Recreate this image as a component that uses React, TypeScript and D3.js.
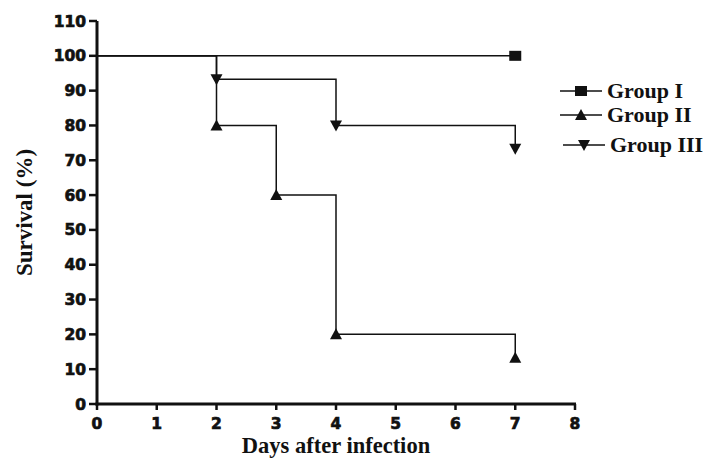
import React from 'react';
import * as d3 from 'd3';

const days = [0, 1, 2, 3, 4, 5, 6, 7, 8];
const survivalTicks = [0, 10, 20, 30, 40, 50, 60, 70, 80, 90, 100, 110];

const groupIDays = [0, 7];
const groupIValues = [100, 100];
const groupIIDays = [0, 2, 3, 4, 7];
const groupIIValues = [100, 80, 60, 20, 13.3];
const groupIIIDays = [0, 2, 4, 7];
const groupIIIValues = [100, 93.3, 80, 73.3];

const groupNames = ['Group I', 'Group II', 'Group III'];

type Pt = { day: number; value: number };
const zip = (ds: number[], vs: number[]): Pt[] => ds.map((d, i) => ({ day: d, value: vs[i] }));

const series = [
  { name: groupNames[0], marker: 'square', points: zip(groupIDays, groupIValues) },
  { name: groupNames[1], marker: 'up', points: zip(groupIIDays, groupIIValues) },
  { name: groupNames[2], marker: 'down', points: zip(groupIIIDays, groupIIIValues) },
];

const Marker = ({ type, x, y }: { type: string; x: number; y: number }) => {
  if (type === 'square') return <rect x={x - 6} y={y - 5} width={12} height={10} fill="#111" />;
  if (type === 'up') return <path d={`M${x},${y - 6}L${x + 6},${y + 5}L${x - 6},${y + 5}Z`} fill="#111" />;
  return <path d={`M${x},${y + 6}L${x + 6},${y - 5}L${x - 6},${y - 5}Z`} fill="#111" />;
};

export default function App() {
  const width = 712;
  const height = 467;
  const x = d3.scaleLinear().domain([0, 8]).range([97, 575]);
  const y = d3.scaleLinear().domain([0, 110]).range([404, 21]);

  const stepLine = d3
    .line<Pt>()
    .x((d) => x(d.day))
    .y((d) => y(d.value))
    .curve(d3.curveStepAfter);

  // heavy sans digits, a bit of stroke to get close to the black-weight look
  const tickFont = {
    fontFamily: '"DejaVu Sans", sans-serif',
    fontWeight: 900,
    fontSize: 15.5,
    fill: '#111',
    stroke: '#111',
    strokeWidth: 0.7,
  };
  const titleFont = { fontFamily: '"Liberation Serif", "Times New Roman", serif', fontWeight: 700, fill: '#111' };

  const legendY = [91, 115, 145];
  const legendX = [560, 560, 563];

  return (
    <svg width={width} height={height} style={{ position: 'absolute', left: 0, top: 0 }}>
      <rect width={width} height={height} fill="#fff" />

      {/* step lines */}
      {series.map((s) => (
        <path key={s.name} d={stepLine(s.points) || ''} fill="none" stroke="#111" strokeWidth={1.5} />
      ))}
      {series.map((s) =>
        s.points
          .filter((p) => p.day > 0)
          .map((p, i) => <Marker key={s.name + i} type={s.marker} x={x(p.day)} y={y(p.value)} />)
      )}

      {/* y axis */}
      <line x1={x(0)} x2={x(0)} y1={y(0) + 1.5} y2={y(110)} stroke="#111" strokeWidth={3} />
      {survivalTicks.map((t) => (
        <g key={t}>
          <line x1={x(0) - 8} x2={x(0)} y1={y(t)} y2={y(t)} stroke="#111" strokeWidth={2.5} />
          <text x={x(0) - 11} y={y(t)} dy="0.36em" textAnchor="end" style={tickFont}>
            {t}
          </text>
        </g>
      ))}

      {/* x axis */}
      <line x1={x(0) - 1.5} x2={x(8) + 1} y1={y(0)} y2={y(0)} stroke="#111" strokeWidth={3} />
      {days.map((d) => (
        <g key={d}>
          <line x1={x(d)} x2={x(d)} y1={y(0)} y2={y(0) + 6} stroke="#111" strokeWidth={2.5} />
          <text x={x(d)} y={y(0) + 25} textAnchor="middle" style={tickFont}>
            {d}
          </text>
        </g>
      ))}

      <text x={336} y={453} textAnchor="middle" style={{ ...titleFont, fontSize: 22.5 }}>
        Days after infection
      </text>
      <text
        transform={`translate(32,${y(55)}) rotate(-90)`}
        textAnchor="middle"
        style={{ ...titleFont, fontSize: 23 }}
      >
        Survival (%)
      </text>

      {/* legend */}
      {series.map((s, i) => (
        <g key={s.name}>
          <line x1={legendX[i]} x2={legendX[i] + 42} y1={legendY[i]} y2={legendY[i]} stroke="#111" strokeWidth={1.5} />
          <Marker type={s.marker} x={legendX[i] + 21} y={legendY[i]} />
          <text x={legendX[i] + 47} y={legendY[i]} dy="0.33em" style={{ ...titleFont, fontSize: 22 }}>
            {s.name}
          </text>
        </g>
      ))}
    </svg>
  );
}
